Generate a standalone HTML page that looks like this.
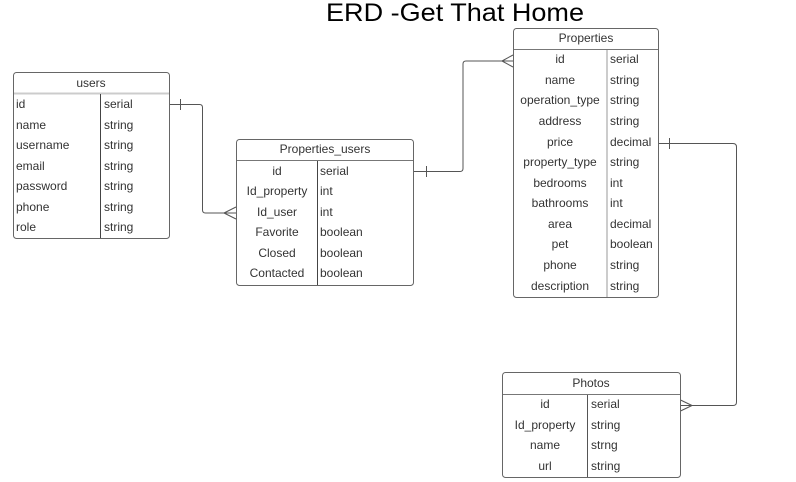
<!DOCTYPE html>
<html><head><meta charset="utf-8"><style>
html,body{margin:0;padding:0;background:#fff;}
svg{display:block;}
text{font-family:"Liberation Sans",sans-serif;font-size:12px;fill:#333;}
</style></head><body>
<svg width="796" height="482" viewBox="0 0 796 482" xmlns="http://www.w3.org/2000/svg">
<text x="455" y="21" text-anchor="middle" style="font-size:25px;fill:#000" textLength="258" lengthAdjust="spacingAndGlyphs">ERD -Get That Home</text>

<!-- connectors -->
<g fill="none" stroke="#555" stroke-width="1">
<path d="M169.5 104.5 H199.5 Q202.5 104.5 202.5 107.5 V210 Q202.5 213 205.5 213 H236"/>
<path d="M180.5 99 V110"/>
<path d="M224 213 L236 207 M224 213 L236 219"/>
<path d="M413.5 171.5 H460 Q463 171.5 463 168.5 V64 Q463 61 466 61 H513"/>
<path d="M426.5 166 V177"/>
<path d="M502 61 L513 55 M502 61 L513 67"/>
<path d="M658.5 143.5 H733 Q736.5 143.5 736.5 147 V402 Q736.5 405.5 733 405.5 H680.5"/>
<path d="M669.5 138 V149"/>
<path d="M692 405.5 L680.5 400 M692 405.5 L680.5 411"/>
</g>

<!-- users -->
<g>
<rect x="13.5" y="72.5" width="156" height="166" rx="3" fill="#fff" stroke="#666"/>
<line x1="14" y1="93.5" x2="169" y2="93.5" stroke="#ccc" stroke-width="2"/>
<line x1="100.5" y1="94" x2="100.5" y2="238" stroke="#444"/>
<text x="91" y="87" text-anchor="middle">users</text>
<text x="16" y="108">id</text><text x="104" y="108">serial</text>
<text x="16" y="129">name</text><text x="104" y="129">string</text>
<text x="16" y="149">username</text><text x="104" y="149">string</text>
<text x="16" y="170">email</text><text x="104" y="170">string</text>
<text x="16" y="190">password</text><text x="104" y="190">string</text>
<text x="16" y="211">phone</text><text x="104" y="211">string</text>
<text x="16" y="231">role</text><text x="104" y="231">string</text>
</g>

<!-- Properties_users -->
<g>
<rect x="236.5" y="139.5" width="177" height="146" rx="3" fill="#fff" stroke="#666"/>
<line x1="237" y1="160.5" x2="413" y2="160.5" stroke="#777"/>
<line x1="317.5" y1="161" x2="317.5" y2="285" stroke="#444"/>
<text x="325" y="153" text-anchor="middle">Properties_users</text>
<g text-anchor="middle">
<text x="277" y="175">id</text>
<text x="277" y="195">Id_property</text>
<text x="277" y="216">Id_user</text>
<text x="277" y="236">Favorite</text>
<text x="277" y="257">Closed</text>
<text x="277" y="277">Contacted</text>
</g>
<text x="320" y="175">serial</text>
<text x="320" y="195">int</text>
<text x="320" y="216">int</text>
<text x="320" y="236">boolean</text>
<text x="320" y="257">boolean</text>
<text x="320" y="277">boolean</text>
</g>

<!-- Properties -->
<g>
<rect x="513.5" y="28.5" width="145" height="269" rx="3" fill="#fff" stroke="#666"/>
<line x1="514" y1="49.5" x2="658" y2="49.5" stroke="#777"/>
<line x1="607" y1="50" x2="607" y2="297" stroke="#ccc" stroke-width="2"/>
<text x="586" y="42" text-anchor="middle">Properties</text>
<g text-anchor="middle">
<text x="560" y="63">id</text>
<text x="560" y="84">name</text>
<text x="560" y="104">operation_type</text>
<text x="560" y="125">address</text>
<text x="560" y="146">price</text>
<text x="560" y="166">property_type</text>
<text x="560" y="187">bedrooms</text>
<text x="560" y="207">bathrooms</text>
<text x="560" y="228">area</text>
<text x="560" y="248">pet</text>
<text x="560" y="269">phone</text>
<text x="560" y="290">description</text>
</g>
<text x="610" y="63">serial</text>
<text x="610" y="84">string</text>
<text x="610" y="104">string</text>
<text x="610" y="125">string</text>
<text x="610" y="146">decimal</text>
<text x="610" y="166">string</text>
<text x="610" y="187">int</text>
<text x="610" y="207">int</text>
<text x="610" y="228">decimal</text>
<text x="610" y="248">boolean</text>
<text x="610" y="269">string</text>
<text x="610" y="290">string</text>
</g>

<!-- Photos -->
<g>
<rect x="502.5" y="372.5" width="178" height="105" rx="3" fill="#fff" stroke="#666"/>
<line x1="503" y1="394.5" x2="680" y2="394.5" stroke="#777"/>
<line x1="587.5" y1="395" x2="587.5" y2="477" stroke="#555"/>
<text x="591" y="387" text-anchor="middle">Photos</text>
<g text-anchor="middle">
<text x="545" y="408">id</text>
<text x="545" y="429">Id_property</text>
<text x="545" y="449">name</text>
<text x="545" y="470">url</text>
</g>
<text x="591" y="408">serial</text>
<text x="591" y="429">string</text>
<text x="591" y="449">strng</text>
<text x="591" y="470">string</text>
</g>
</svg>
</body></html>
